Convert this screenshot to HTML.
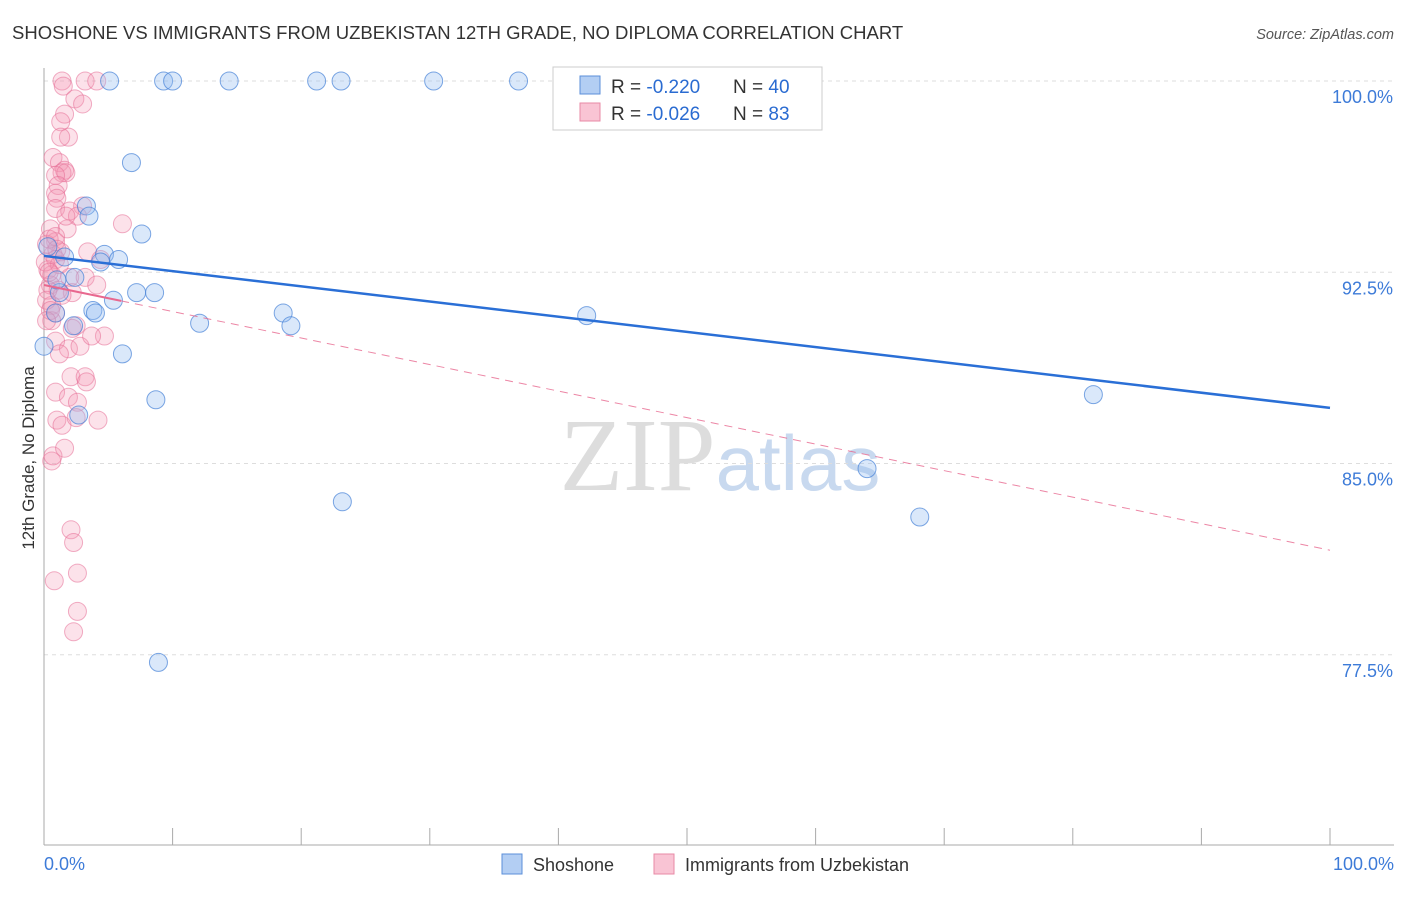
<!DOCTYPE html>
<html><head><meta charset="utf-8"><style>
body{margin:0;background:#fff;width:1406px;height:892px;overflow:hidden;font-family:"Liberation Sans",sans-serif}
</style></head><body>
<svg id="chart" width="1406" height="892" xmlns="http://www.w3.org/2000/svg" font-family="Liberation Sans, sans-serif">
<text x="12" y="39" font-size="18.5" fill="#333">SHOSHONE VS IMMIGRANTS FROM UZBEKISTAN 12TH GRADE, NO DIPLOMA CORRELATION CHART</text>
<text x="1394" y="39" font-size="14.5" fill="#555" text-anchor="end" font-style="italic">Source: ZipAtlas.com</text>
<text x="720" y="490" font-size="104" text-anchor="middle" fill="#ddd" font-family="Liberation Serif, serif">ZIP<tspan fill="#c8d9ef" font-family="Liberation Sans, sans-serif" font-size="78">atlas</tspan></text>
<g id="grid"></g><g id="axes"></g><g id="pts"></g><g id="trend"></g>
<text transform="translate(34,458) rotate(-90)" font-size="17" fill="#333" text-anchor="middle">12th Grade, No Diploma</text>
<g>
<rect x="553" y="67" width="269" height="63" fill="#fff" stroke="#ccc"/>
<rect x="580" y="76" width="20" height="18" fill="#b3cef3" stroke="#5b8fd9"/>
<rect x="580" y="103" width="20" height="18" fill="#f9c4d4" stroke="#e88aa6"/>
<text x="611" y="93" font-size="19" fill="#333">R = <tspan fill="#2a6bd1">-0.220</tspan></text>
<text x="733" y="93" font-size="19" fill="#333">N = <tspan fill="#2a6bd1">40</tspan></text>
<text x="611" y="120" font-size="19" fill="#333">R = <tspan fill="#2a6bd1">-0.026</tspan></text>
<text x="733" y="120" font-size="19" fill="#333">N = <tspan fill="#2a6bd1"> 83</tspan></text>
</g>
<g><rect x="502" y="854" width="20" height="20" fill="#b3cef3" stroke="#5b8fd9"/><text x="533" y="871" font-size="18" fill="#333">Shoshone</text></g>
<g><rect x="654" y="854" width="20" height="20" fill="#f9c4d4" stroke="#e88aa6"/><text x="685" y="871" font-size="18" fill="#333">Immigrants from Uzbekistan</text></g>
</svg>
<script>
const yTicks=[100,92.5,85,77.5];
const yTickLabels=["100.0%","92.5%","85.0%","77.5%"];
const xTickLabels=["0.0%","100.0%"];
const blueX=[5.1,9.3,10.0,14.4,21.2,23.1,30.3,36.9,6.8,3.3,3.5,7.6,4.7,1.6,5.8,4.4,2.4,8.6,7.2,5.4,3.8,4.0,12.1,18.6,19.2,42.2,2.3,6.1,8.7,2.7,81.6,64.0,23.2,68.1,8.9,0,0.9,0.3,1.2,1.0];
const blueY=[100,100,100,100,100,100,100,100,96.8,95.1,94.7,94.0,93.2,93.1,93.0,92.9,92.3,91.7,91.7,91.4,91.0,90.9,90.5,90.9,90.4,90.8,90.4,89.3,87.5,86.9,87.7,84.8,83.5,82.9,77.2,89.6,90.9,93.5,91.7,92.2];
const pinkX=[1.4,3.2,4.1,1.5,2.4,3.0,1.6,1.3,1.9,1.3,0.7,1.2,1.6,1.4,1.7,0.9,1.1,0.9,1.0,3.0,0.9,2.0,2.6,6.1,1.8,0.5,0.9,3.4,1.3,0.7,0.9,4.4,0.3,0.6,2.0,3.2,0.5,4.1,1.1,2.2,1.4,0.6,0.9,0.6,2.5,2.2,4.7,0.9,1.9,1.2,2.1,3.2,3.3,0.9,1.9,2.6,1.0,1.4,2.5,4.2,0.6,0.7,1.6,2.1,2.3,2.6,0.8,2.6,2.3,0.3,0.2,0.5,0.2,0.2,0.4,0.9,1.2,0.1,1.7,2.8,3.7,0.4,1.0];
const pinkY=[100,100,100,99.8,99.3,99.1,98.7,98.4,97.8,97.8,97.0,96.8,96.5,96.4,96.4,96.3,95.9,95.6,95.4,95.1,95.0,94.9,94.7,94.4,94.2,94.2,93.7,93.3,93.3,93.2,93.0,93.0,92.6,92.4,92.3,92.3,92.0,92.0,91.8,91.7,91.6,91.2,90.9,90.6,90.4,90.3,90.0,89.8,89.5,89.3,88.4,88.4,88.2,87.8,87.6,87.4,86.7,86.5,86.8,86.7,85.1,85.3,85.6,82.4,81.9,80.7,80.4,79.2,78.4,91.8,91.4,91.0,90.6,93.6,93.8,93.9,92.8,92.9,94.7,89.6,90.0,92.5,93.4];
const blueTrend=[93.14,87.18];
const pinkTrend=[92.0,81.6];
const pinkSolidEnd=6;
const X=v=>44+v*12.86, Y=v=>81+(100-v)*25.5;
const NS="http://www.w3.org/2000/svg";
function mk(tag,attrs,parent){const e=document.createElementNS(NS,tag);for(const k in attrs)e.setAttribute(k,attrs[k]);parent.appendChild(e);return e;}
const grid=document.getElementById('grid'),axes=document.getElementById('axes'),pts=document.getElementById('pts'),tr=document.getElementById('trend');
yTicks.forEach((t,i)=>{
 const l=mk('line',{x1:44,x2:1394,y1:Y(t),y2:Y(t),stroke:'#ddd','stroke-dasharray':'4 4'},grid);
 
 
 const tx=mk('text',{x:1393,y:Y(t)+22,'font-size':18,fill:'#3d7bd8','text-anchor':'end'},axes);
 tx.textContent=yTickLabels[i];
 
 
});
mk('line',{x1:44,x2:44,y1:68,y2:845,stroke:'#aaa'},axes);
mk('line',{x1:44,x2:1394,y1:845,y2:845,stroke:'#aaa'},axes);
for(let i=1;i<=10;i++){const tk=mk('line',{x1:X(i*10),x2:X(i*10),y1:828,y2:845,stroke:'#aaa'},axes);
 
 }
const xl0=mk('text',{x:44,y:870,'font-size':18,fill:'#3d7bd8'},axes);xl0.textContent=xTickLabels[0];


const xl1=mk('text',{x:1394,y:870,'font-size':18,fill:'#3d7bd8','text-anchor':'end'},axes);xl1.textContent=xTickLabels[1];


pinkX.forEach((v,i)=>{const c=mk('circle',{cx:X(v),cy:Y(pinkY[i]),r:9,fill:'rgba(244,150,180,0.28)',stroke:'rgba(230,110,150,0.55)'},pts);
 
 });
blueX.forEach((v,i)=>{const c=mk('circle',{cx:X(v),cy:Y(blueY[i]),r:9,fill:'rgba(150,190,240,0.35)',stroke:'rgba(70,130,215,0.7)'},pts);
 
 });
const py=x=>pinkTrend[0]+(pinkTrend[1]-pinkTrend[0])*x/100;
const l1=mk('line',{x1:X(0),y1:Y(py(0)),x2:X(pinkSolidEnd),y2:Y(py(pinkSolidEnd)),stroke:'#e8688f','stroke-width':2},tr);


const l2=mk('line',{x1:X(pinkSolidEnd),y1:Y(py(pinkSolidEnd)),x2:X(100),y2:Y(py(100)),stroke:'#e8688f','stroke-width':1,'stroke-dasharray':'8 6',opacity:0.8},tr);


const l3=mk('line',{x1:X(0),y1:Y(blueTrend[0]),x2:X(100),y2:Y(blueTrend[1]),stroke:'#2a6fd6','stroke-width':2.5},tr);


</script>
</body></html>
